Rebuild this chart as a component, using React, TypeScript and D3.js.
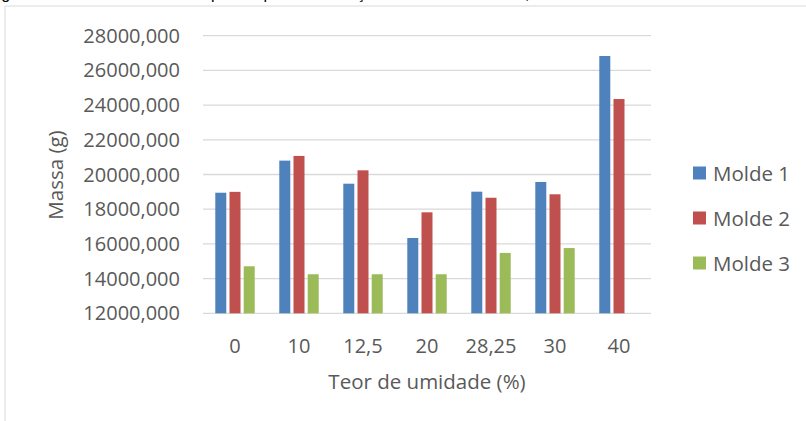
import React, { useEffect, useRef } from 'react';
import * as d3 from 'd3';

// Teor de umidade (%) categories
const categories = ['0', '10', '12,5', '20', '28,25', '30', '40'];
const seriesNames = ['Molde 1', 'Molde 2', 'Molde 3'];
const molde1 = [18950, 20800, 19470, 16340, 19010, 19570, 26830];
const molde2 = [19000, 21070, 20240, 17820, 18660, 18860, 24350];
const molde3: (number | null)[] = [14710, 14250, 14250, 14250, 15480, 15760, null];
const yTicks = [12000, 14000, 16000, 18000, 20000, 22000, 24000, 26000, 28000];
const colors = ['#4F81BD', '#C0504D', '#9BBB59'];

const caption = 'Figura 11 – Massa total dos corpos de prova em função do teor de umidade, em molde de';

const App: React.FC = () => {
    const svgRef = useRef<SVGSVGElement>(null);

    useEffect(() => {
        document.body.style.margin = '0';
        if (!svgRef.current) return;

        const svg = d3.select(svgRef.current);
        svg.selectAll('*').remove();

        const font = '"Open Sans", "Noto Sans", sans-serif';
        const textColor = '#595959';
        const plot = { left: 203, right: 651, top: 35.7, bottom: 313.3 };

        // caption, mostly cut off by the top edge
        svg.append('text')
            .attr('x', -12)
            .attr('y', -1)
            .attr('font-family', '"Liberation Sans", Arial, sans-serif')
            .attr('font-size', 16)
            .attr('fill', '#000')
            .text(caption);

        // chart area border
        svg.append('rect')
            .attr('x', 5)
            .attr('y', 6)
            .attr('width', 830)
            .attr('height', 440)
            .attr('fill', 'white')
            .attr('stroke', '#d9d9d9')
            .attr('stroke-width', 1);

        const x0 = d3.scaleBand<string>()
            .domain(categories)
            .range([plot.left, plot.right])
            .paddingInner(0.334)
            .paddingOuter(0.167);

        const x1 = d3.scaleBand<string>()
            .domain(seriesNames)
            .range([0, x0.bandwidth()]);

        const y = d3.scaleLinear()
            .domain([12000, 28000])
            .range([plot.bottom, plot.top]);

        // gridlines
        svg.append('g')
            .selectAll('line')
            .data(yTicks)
            .join('line')
            .attr('x1', plot.left)
            .attr('x2', plot.right)
            .attr('y1', d => y(d))
            .attr('y2', d => y(d))
            .attr('stroke', '#d9d9d9')
            .attr('stroke-width', 1.3);

        // y tick labels
        svg.append('g')
            .selectAll('text')
            .data(yTicks)
            .join('text')
            .attr('x', 180)
            .attr('y', d => y(d))
            .attr('dy', '0.35em')
            .attr('text-anchor', 'end')
            .attr('font-family', font)
            .attr('font-size', 20)
            .attr('fill', textColor)
            .text(d => d3.format('d')(d) + ',000');

        // bars
        const series = [molde1, molde2, molde3];
        const inset = 1.6;
        series.forEach((values, si) => {
            svg.append('g')
                .selectAll('rect')
                .data(values.map((v, i) => ({ v, c: categories[i] })).filter(d => d.v != null))
                .join('rect')
                .attr('x', d => (x0(d.c) ?? 0) + (x1(seriesNames[si]) ?? 0) + inset)
                .attr('width', x1.bandwidth() - inset * 2)
                .attr('y', d => y(d.v as number))
                .attr('height', d => y(12000) - y(d.v as number))
                .attr('fill', colors[si]);
        });

        // x tick labels
        svg.append('g')
            .selectAll('text')
            .data(categories)
            .join('text')
            .attr('x', d => (x0(d) ?? 0) + x0.bandwidth() / 2)
            .attr('y', 353)
            .attr('text-anchor', 'middle')
            .attr('font-family', font)
            .attr('font-size', 20)
            .attr('fill', textColor)
            .text(d => d);

        // axis titles
        svg.append('text')
            .attr('x', (plot.left + plot.right) / 2)
            .attr('y', 389)
            .attr('text-anchor', 'middle')
            .attr('font-family', font)
            .attr('font-size', 20.5)
            .attr('fill', textColor)
            .text('Teor de umidade (%)');

        svg.append('text')
            .attr('transform', 'translate(63, 175) rotate(-90)')
            .attr('text-anchor', 'middle')
            .attr('font-family', font)
            .attr('font-size', 20.5)
            .attr('fill', textColor)
            .text('Massa (g)');

        // legend
        const legend = svg.append('g')
            .selectAll('g')
            .data(seriesNames)
            .join('g')
            .attr('transform', (_d, i) => `translate(693, ${173 + i * 45})`);

        legend.append('rect')
            .attr('x', 0)
            .attr('y', -6.5)
            .attr('width', 13)
            .attr('height', 13)
            .attr('fill', (_d, i) => colors[i]);

        legend.append('text')
            .attr('x', 20)
            .attr('y', 7.5)
            .attr('font-family', font)
            .attr('font-size', 20.5)
            .attr('fill', textColor)
            .text(d => d);
    }, []);

    return (
        <svg ref={svgRef} width={806} height={421} style={{ display: 'block', background: 'white' }}></svg>
    );
};

export default App;
